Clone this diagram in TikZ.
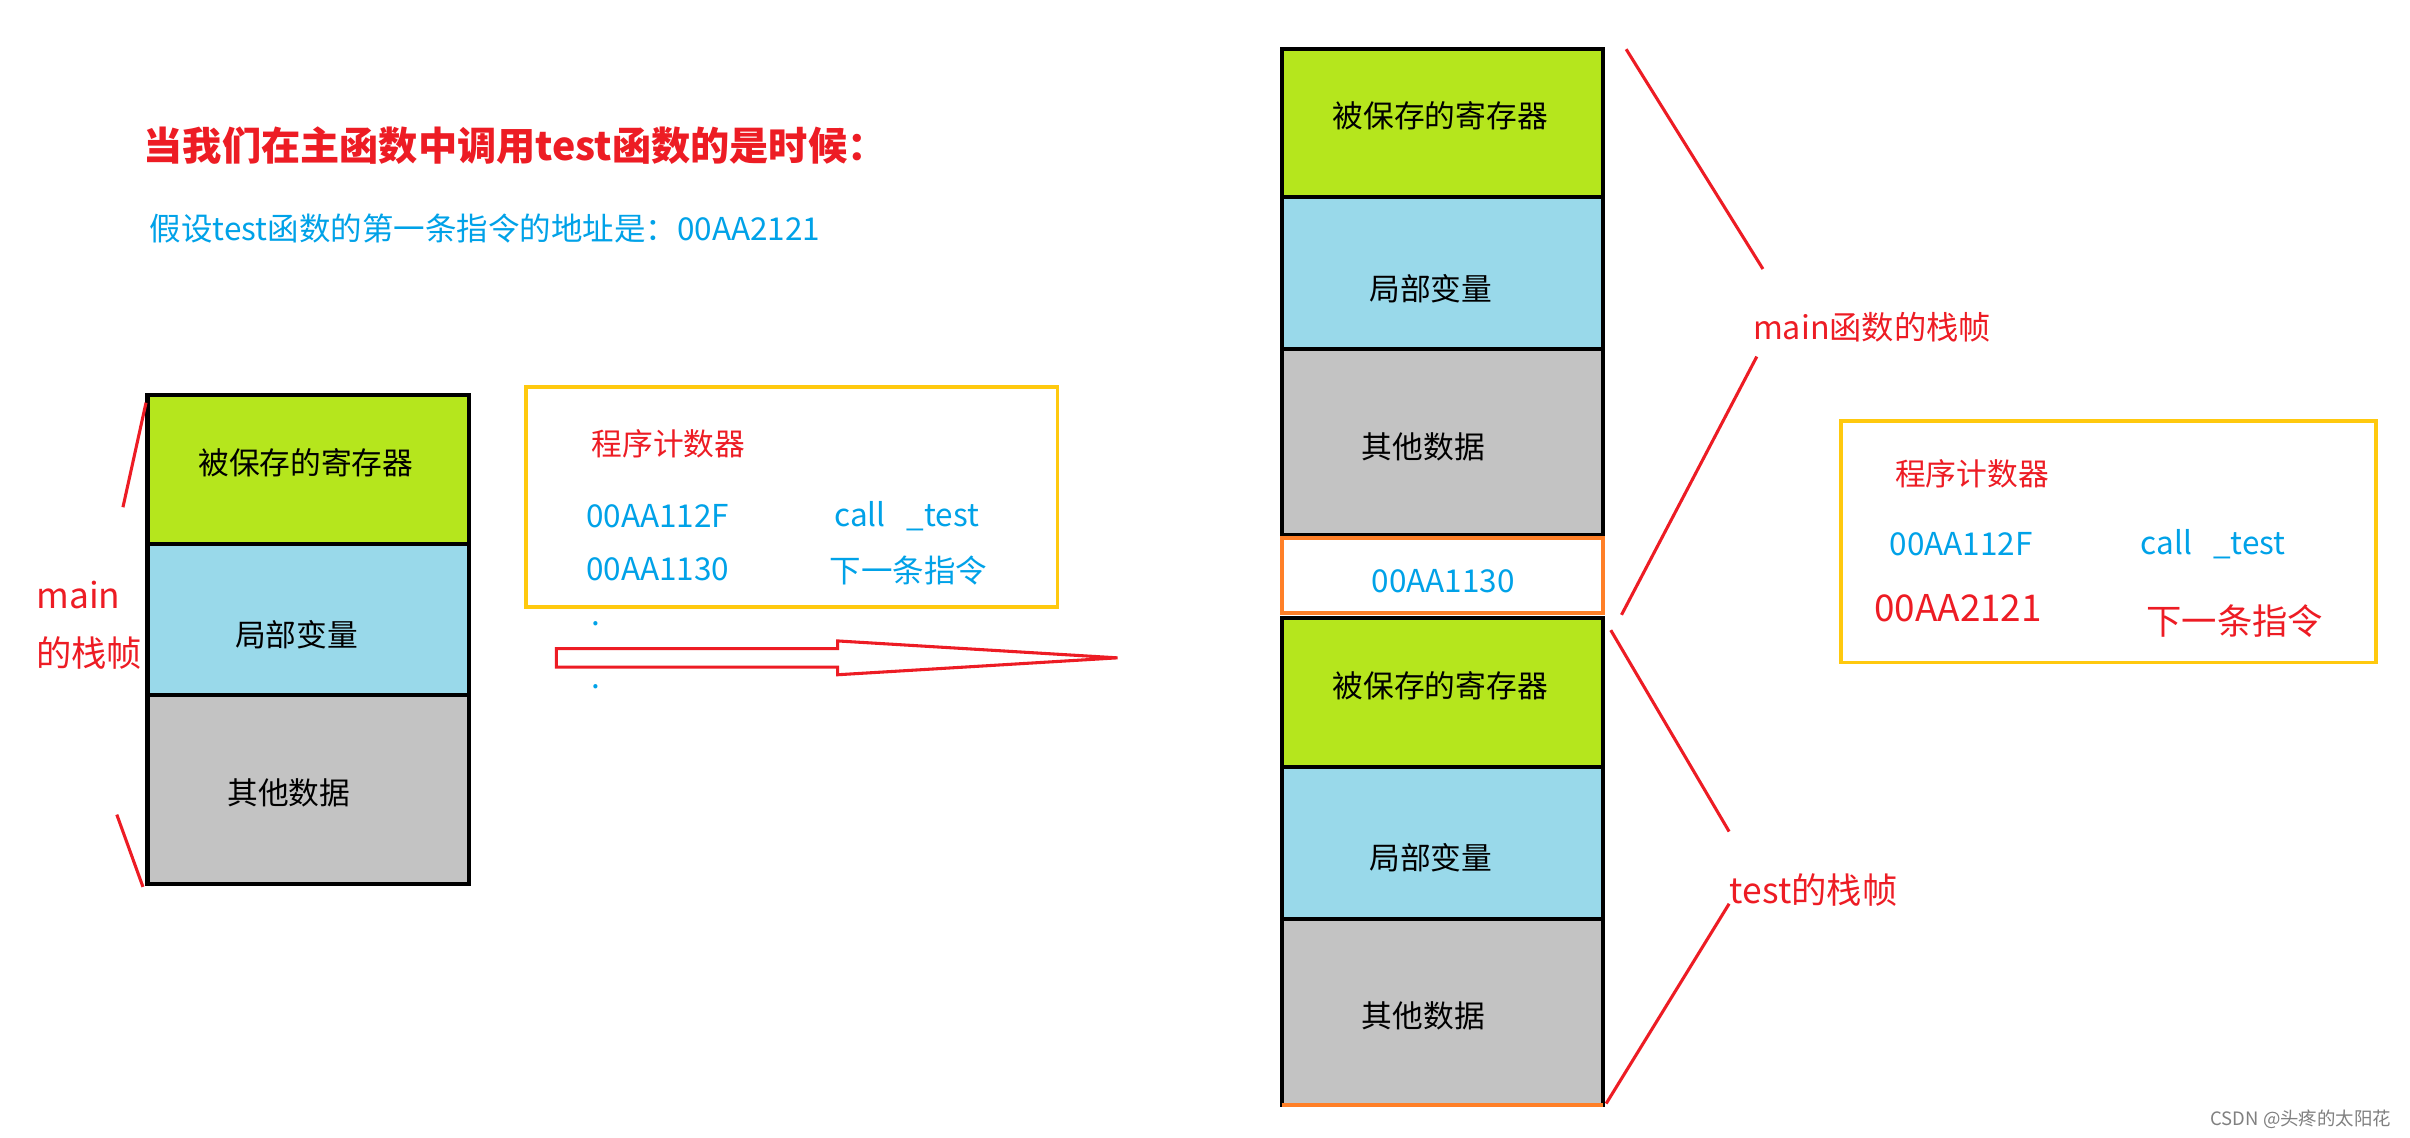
\documentclass[tikz,border=0pt]{standalone}
\usepackage{fontspec}
\setmainfont{Noto Sans CJK SC}
\definecolor{cgreen}{HTML}{B5E61D}
\definecolor{cblue}{HTML}{99D9EA}
\definecolor{cgray}{HTML}{C3C3C3}
\definecolor{tblue}{HTML}{00A2E8}
\definecolor{tred}{HTML}{ED1C24}
\definecolor{cyel}{HTML}{FFC90E}
\definecolor{corg}{HTML}{FF7F27}
\begin{document}
\begin{tikzpicture}[x=1pt,y=-1pt,
  cell/.style={draw=black,line width=2.8pt},
  lbl/.style={font=\fontsize{20}{20}\selectfont},
  bt/.style={text=tblue,font=\fontsize{20.5}{20}\selectfont},
  rt/.style={text=tred,font=\fontsize{20}{20}\selectfont},
  rl/.style={draw=tred,line width=2pt}]
\useasboundingbox[fill=white] (0,0) rectangle (1568,740);
\node[anchor=west,text=tred,font=\bfseries\fontsize{25.5}{25}\selectfont] (title) at (90,95) {当我们在主函数中调用test函数的是时候：};
\node[anchor=west,bt] (assume) at (94,149) {假设test函数的第一条指令的地址是：00AA2121};
% left stack
\filldraw[cell,fill=cgreen] (96,257) rectangle (305,354);
\filldraw[cell,fill=cblue] (96,354) rectangle (305,452);
\filldraw[cell,fill=cgray] (96,452) rectangle (305,575);
\node[lbl] (l1) at (199,301) {被保存的寄存器};
\node[lbl] (l2) at (193,413) {局部变量};
\node[lbl] (l3) at (188,516) {其他数据};
\draw[rl] (95,262) -- (80,330);
\draw[rl] (76,530) -- (93,577);
\node[rt,font=\fontsize{23}{23}\selectfont] (m1) at (51,387) {main};
\node[rt,font=\fontsize{23}{23}\selectfont] (m2) at (58,425) {的栈帧};
% left PC box
\draw[cyel,line width=2.5pt] (342,252) rectangle (688,395);
\node[rt] (p1) at (435,289) {程序计数器};
\node[bt] (p2) at (428,336) {00AA112F};
\node[bt] (p3) at (590,336) {call \ \ \_test};
\node[bt] (p4) at (428,370) {00AA1130};
\node[bt] (p5) at (591,371) {下一条指令};
\node[bt] (d1) at (388,406) {.};
\node[bt] (d2) at (388,447) {.};
% arrow
\draw[tred,line width=2pt] (362,422) -- (545,422) -- (545,417) -- (727,428) -- (545,439) -- (545,434) -- (362,434) -- cycle;
% right stack
\filldraw[cell,fill=cgreen] (834,32) rectangle (1043,128);
\filldraw[cell,fill=cblue] (834,128) rectangle (1043,227);
\filldraw[cell,fill=cgray] (834,227) rectangle (1043,348);
\draw[corg,line width=2.5pt] (834,350) rectangle (1043,399);
\filldraw[cell,fill=cgreen] (834,402) rectangle (1043,499);
\filldraw[cell,fill=cblue] (834,499) rectangle (1043,598);
\filldraw[cell,fill=cgray] (834,598) rectangle (1043,719);
\draw[corg,line width=2.5pt] (834,719) -- (1043,719);
\node[lbl] (r1) at (937,75) {被保存的寄存器};
\node[lbl] (r2) at (931,188) {局部变量};
\node[lbl] (r3) at (926,291) {其他数据};
\node[bt] (r4) at (939,378) {00AA1130};
\node[lbl] (r5) at (937,446) {被保存的寄存器};
\node[lbl] (r6) at (931,558) {局部变量};
\node[lbl] (r7) at (926,661) {其他数据};
\draw[rl] (1058,32) -- (1147,175);
\draw[rl] (1143,232) -- (1055,400);
\node[rt,font=\fontsize{21}{21}\selectfont] (mf) at (1218,213) {main函数的栈帧};
\draw[rl] (1048,410) -- (1125,541);
\draw[rl] (1125,588) -- (1045,718);
\node[rt,font=\fontsize{23}{23}\selectfont] (tf) at (1180,579) {test的栈帧};
% right PC box
\draw[cyel,line width=2.5pt] (1198,274) rectangle (1546,431);
\node[rt] (q1) at (1283,308) {程序计数器};
\node[bt] (q2) at (1276,354) {00AA112F};
\node[bt] (q3) at (1440,354) {call \ \ \_test};
\node[rt,font=\fontsize{24}{24}\selectfont] (q4) at (1274,396) {00AA2121};
\node[rt,font=\fontsize{23}{23}\selectfont] (q5) at (1454,404) {下一条指令};
\node[text=gray,font=\fontsize{12}{12}\selectfont] (wm) at (1497,728) {CSDN @头疼的太阳花};
\end{tikzpicture}
\end{document}
